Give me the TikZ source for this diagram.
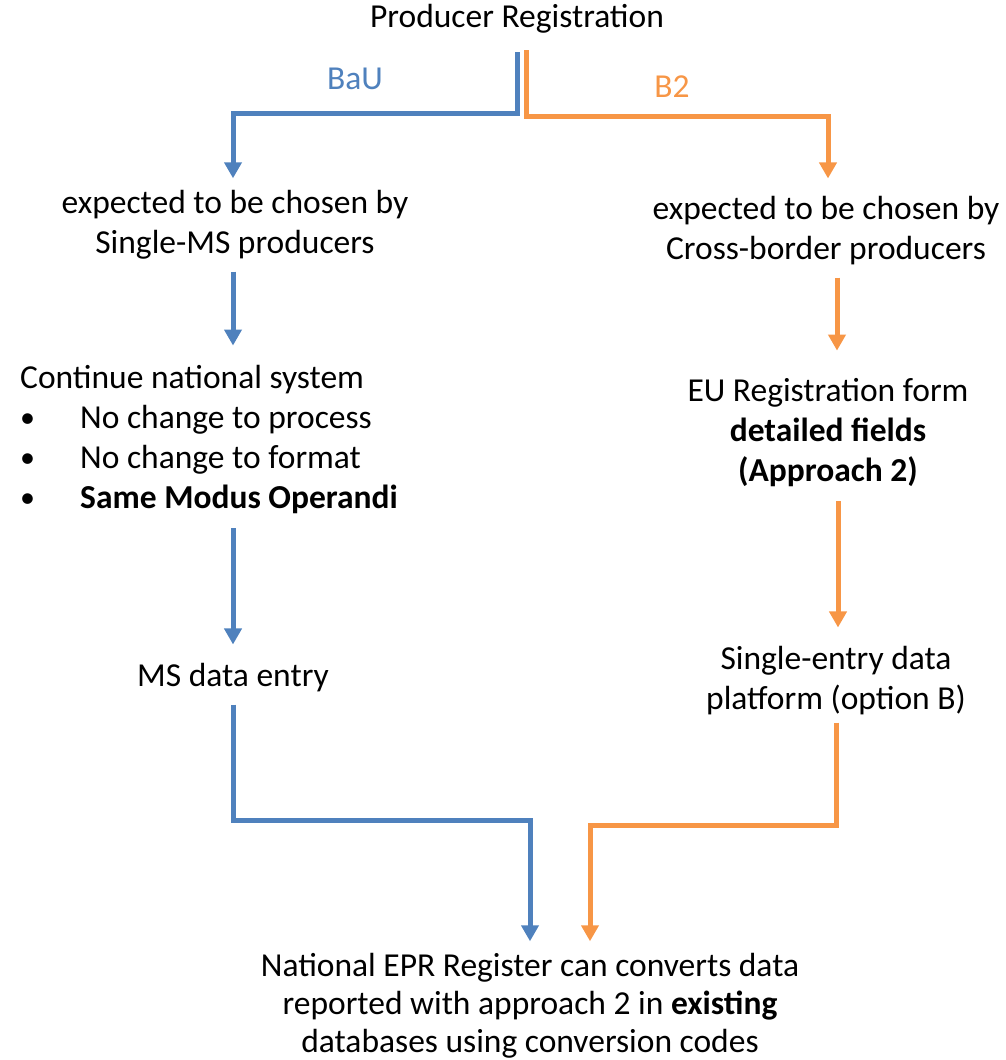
\documentclass[tikz,border=0pt]{standalone}
\usepackage{fontspec}
\setmainfont{Carlito}
\usetikzlibrary{positioning, arrows.meta}

\definecolor{baublue}{HTML}{4F81BD}
\definecolor{btworange}{HTML}{F79646}

\newcommand{\smallbullet}{\hspace*{0pt}\makebox[60pt][l]{\raisebox{1pt}{\fontsize{30}{30}\selectfont\textbullet}}}

\tikzset{
  txt/.style={align=center, inner sep=0pt, font=\fontsize{33.5}{40}\selectfont},
  bauline/.style={line width=5pt, draw=baublue, -{Triangle[width=17pt,length=16pt]}},
  btwoline/.style={line width=5pt, draw=btworange, -{Triangle[width=17pt,length=16pt]}}
}

\begin{document}
\begin{tikzpicture}[x=1pt,y=-1pt]
  \useasboundingbox (0,0) rectangle (1005,1060);

  % Texts
  \node[txt] (title) at (517,19) {Producer Registration};
  \node[txt, text=baublue] (bau) at (355,79) {BaU};
  \node[txt, text=btworange] (btwo) at (672,87) {B2};
  \node[txt] (exp1) at (235,225) {expected to be chosen by\\Single-MS producers};
  \node[txt] (exp2) at (826,231) {expected to be chosen by\\Cross-border producers};
  \node[txt, align=left, anchor=west] (natsys) at (20,439)
    {Continue national system\\
     \smallbullet No change to process\\
     \smallbullet No change to format\\
     \smallbullet\textbf{Same Modus Operandi}};
  \node[txt] (eureg) at (828,433) {EU Registration form\\\textbf{detailed fields}\\\textbf{(Approach 2)}};
  \node[txt] (msentry) at (233,678) {MS data entry};
  \node[txt] (single) at (836,681) {Single-entry data\\platform (option B)};
  \node[txt, font=\fontsize{33.5}{38}\selectfont] (natepr) at (530,1006)
    {National EPR Register can converts data\\reported with approach 2 in \textbf{existing}\\databases using conversion codes};

  % Corner points of the connectors
  \coordinate (bau top) at (517,52);
  \coordinate (bau bend) at (233,113);
  \coordinate (btwo top) at (526,50);
  \coordinate (btwo bend) at (828,116);
  \coordinate (bau low) at (530,820);
  \coordinate (btwo low) at (590,825);

  % Blue path (BaU)
  \draw[bauline, shorten >=12pt] (bau top) |- (bau bend) -- (bau bend |- exp1.north);
  \draw[bauline, shorten <=12pt, shorten >=19pt] (exp1.south -| 233,0) -- (natsys.north -| 233,0);
  \draw[bauline, shorten <=15pt, shorten >=19pt] (natsys.south -| 233,0) -- (msentry.north);
  \draw[bauline, shorten <=12pt, shorten >=12pt] (msentry.south) |- (bau low) -- (bau low |- natepr.north);

  % Orange path (B2)
  \draw[btwoline, shorten >=18pt] (btwo top) |- (btwo bend) -- (btwo bend |- exp2.north);
  \draw[btwoline, shorten <=12pt, shorten >=28pt] (exp2.south -| 837,0) -- (eureg.north -| 837,0);
  \draw[btwoline, shorten <=14pt, shorten >=19pt] (eureg.south -| 838,0) -- (single.north -| 838,0);
  \draw[btwoline, shorten <=7pt, shorten >=12pt] (single.south) |- (btwo low) -- (btwo low |- natepr.north);
\end{tikzpicture}
\end{document}
